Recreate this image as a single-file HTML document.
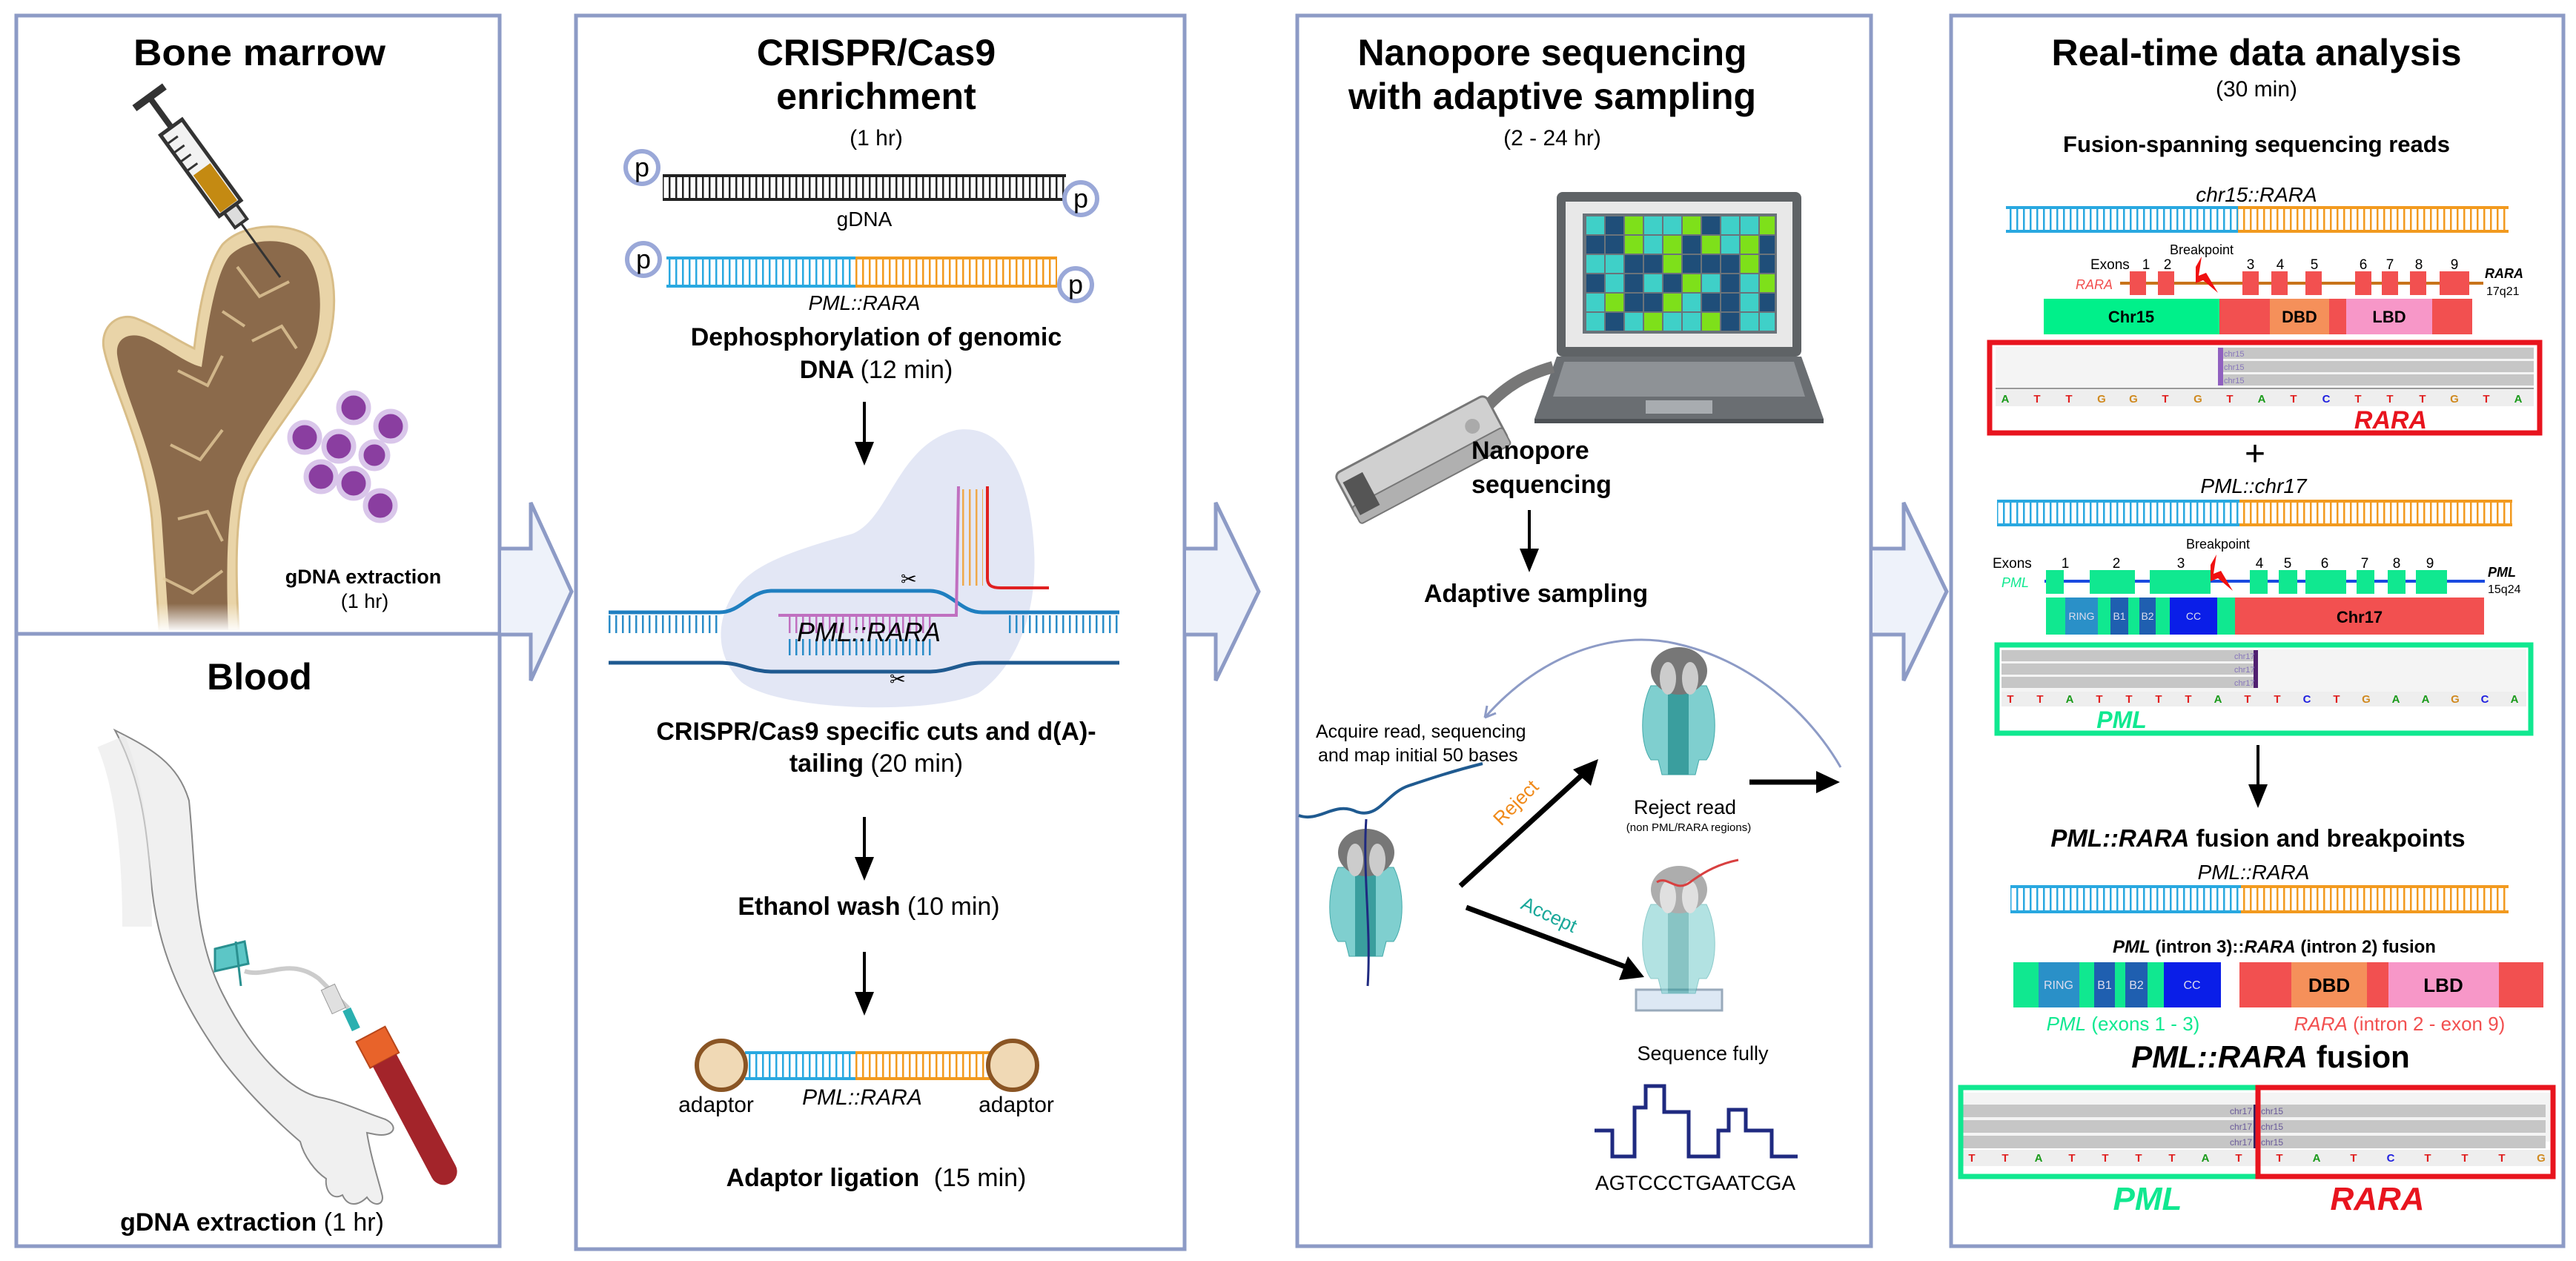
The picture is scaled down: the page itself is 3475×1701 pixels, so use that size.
<!DOCTYPE html>
<html><head><meta charset="utf-8"><style>
html,body{margin:0;padding:0;background:#fff}
svg{display:block}
text{font-family:"Liberation Sans",Arial,sans-serif}
.t{font-weight:bold;font-size:50px;text-anchor:middle}
.s{font-size:30px;text-anchor:middle}
.b{font-weight:bold}
.i{font-style:italic}
.m{text-anchor:middle}
</style></head><body>
<svg width="3475" height="1701" viewBox="0 0 3475 1701" xmlns="http://www.w3.org/2000/svg">
<defs>
<pattern id="rb" width="9" height="200" patternUnits="userSpaceOnUse"><rect x="2" y="0" width="2.5" height="200" fill="#29a8e0"/></pattern>
<pattern id="ro" width="9" height="200" patternUnits="userSpaceOnUse"><rect x="2" y="0" width="2.5" height="200" fill="#f29a1f"/></pattern>
<pattern id="rk" width="9" height="200" patternUnits="userSpaceOnUse"><rect x="2" y="0" width="2.5" height="200" fill="#222"/></pattern>
<pattern id="rd" width="9" height="200" patternUnits="userSpaceOnUse"><rect x="2" y="0" width="2.5" height="200" fill="#2a8cc8"/></pattern>
<pattern id="rp" width="9" height="200" patternUnits="userSpaceOnUse"><rect x="2" y="0" width="2.5" height="200" fill="#c070c0"/></pattern>
<linearGradient id="fade" x1="0" y1="0" x2="0" y2="1"><stop offset="0.75" stop-color="#fff" stop-opacity="0"/><stop offset="1" stop-color="#fff" stop-opacity="1"/></linearGradient>
</defs>

<g fill="none" stroke="#8d9bc6" stroke-width="5">
<rect x="22" y="21" width="652" height="834"/>
<rect x="22" y="855" width="652" height="826"/>
<rect x="777" y="21" width="821" height="1664"/>
<rect x="1750" y="21" width="774" height="1660"/>
<rect x="2632" y="21" width="826" height="1660"/>
</g>
<g fill="#eef2fa" stroke="#8d9bc6" stroke-width="5" stroke-linejoin="miter">
<path d="M676,740 L716,740 L716,678 L771,798 L716,918 L716,856 L676,856"/>
<path d="M1600,740 L1640,740 L1640,678 L1698,798 L1640,918 L1640,856 L1600,856"/>
<path d="M2526,740 L2568,740 L2568,678 L2626,798 L2568,918 L2568,856 L2526,856"/>
</g>

<!-- PANEL 1 bone marrow -->
<text class="t" x="350" y="88" textLength="340" lengthAdjust="spacingAndGlyphs">Bone marrow</text>
<path d="M215,850 L205,700 C195,600 150,520 140,470 C135,440 160,420 185,430 C215,442 240,460 262,470 C268,420 278,360 300,330 C330,298 395,300 422,322 C452,348 456,405 445,455 C432,515 360,585 332,650 C316,700 318,780 322,850 Z" fill="#e9d4a8" stroke="#d8bd88" stroke-width="3"/>
<path d="M228,850 L218,700 C210,610 165,530 158,478 C156,455 175,448 195,455 C225,468 250,490 272,495 C280,440 290,370 310,345 C335,320 385,320 408,338 C432,360 436,408 428,448 C415,505 348,575 320,645 C305,695 305,780 308,850 Z" fill="#8b6a4b"/>
<g stroke="#e2c99a" stroke-width="4" fill="none" opacity="0.8">
<path d="M240,500 L280,520 L300,480 M320,360 L350,400 L390,380 M230,600 L270,620 L300,580 M240,700 L280,690 L300,730 M220,780 L260,800 L300,770 M340,460 L380,440 L400,470 M300,420 L330,440"/>
</g>
<rect x="130" y="700" width="230" height="152" fill="url(#fade)"/>
<g transform="translate(378,374) rotate(-36)">
<line x1="0" y1="0" x2="0" y2="-90" stroke="#333" stroke-width="3"/>
<rect x="-10" y="-115" width="20" height="25" fill="#ddd" stroke="#333" stroke-width="4"/>
<rect x="-18" y="-250" width="36" height="135" fill="#f2f2f2" stroke="#333" stroke-width="5"/>
<rect x="-14" y="-180" width="28" height="62" fill="#c48a12"/>
<g stroke="#333" stroke-width="3"><line x1="-18" y1="-190" x2="0" y2="-190"/><line x1="-18" y1="-205" x2="0" y2="-205"/><line x1="-18" y1="-220" x2="0" y2="-220"/><line x1="-18" y1="-235" x2="0" y2="-235"/></g>
<rect x="-4" y="-300" width="8" height="50" fill="#333"/>
<rect x="-25" y="-305" width="50" height="10" fill="#333"/>
</g>
<g fill="#8a3ea0" stroke="#d9c6ea" stroke-width="7">
<circle cx="477" cy="550" r="20"/><circle cx="527" cy="575" r="20"/><circle cx="411" cy="590" r="20"/><circle cx="457" cy="602" r="20"/><circle cx="505" cy="614" r="18"/><circle cx="433" cy="643" r="20"/><circle cx="477" cy="652" r="20"/><circle cx="513" cy="682" r="20"/>
</g>
<text class="b m" x="490" y="787" font-size="27">gDNA extraction</text>
<text class="m" x="492" y="820" font-size="27">(1 hr)</text>

<!-- Blood -->
<text class="t" x="350" y="930">Blood</text>
<path d="M155,985 C205,1010 240,1030 255,1080 C265,1180 260,1260 300,1340 C340,1420 390,1470 430,1480 C460,1485 490,1500 520,1510 C540,1520 530,1535 505,1530 L495,1528 C500,1560 510,1590 515,1610 C520,1625 505,1630 495,1615 C485,1625 470,1630 462,1612 C448,1620 438,1605 440,1590 C425,1580 410,1560 405,1540 C370,1510 330,1470 300,1430 C250,1360 215,1290 205,1200 C198,1130 195,1060 155,985 Z" fill="#f0f0f0" stroke="#888" stroke-width="2"/>
<path d="M150,1000 C175,1060 185,1150 185,1250" stroke="#e8e8e8" stroke-width="40" fill="none" opacity="0.6"/>
<path d="M330,1310 C360,1320 390,1290 430,1320 C450,1340 460,1350 470,1360" stroke="#ccc" stroke-width="6" fill="none"/>
<path d="M290,1280 L330,1270 L335,1300 L290,1310 Z M318,1270 L325,1330" fill="#5cc6c6" stroke="#2a9090" stroke-width="3"/>
<rect x="440" y="1330" width="20" height="35" fill="#e0e0e0" stroke="#999" transform="rotate(-25 450 1348)"/>
<rect x="468" y="1360" width="12" height="30" fill="#2ab0b0" transform="rotate(-25 474 1375)"/>
<g transform="translate(500,1395) rotate(-28)">
<rect x="-22" y="0" width="44" height="40" fill="#e8632a" stroke="#b8461a" stroke-width="2"/>
<path d="M-18,40 L18,40 L18,210 A18,18 0 0 1 -18,210 Z" fill="#a3242a"/>
</g>
<text class="b m" x="340" y="1660" font-size="34">gDNA extraction <tspan font-weight="normal">(1 hr)</tspan></text>

<!-- PANEL 2 -->
<text class="t" x="1182" y="88">CRISPR/Cas9</text>
<text class="t" x="1182" y="147">enrichment</text>
<text class="s" x="1182" y="196">(1 hr)</text>
<rect x="894" y="238" width="544" height="30" fill="url(#rk)"/>
<line x1="894" y1="237" x2="1438" y2="237" stroke="#222" stroke-width="4"/>
<line x1="894" y1="269" x2="1438" y2="269" stroke="#222" stroke-width="4"/>
<g fill="#fff" stroke="#9aa8d8" stroke-width="6"><circle cx="866" cy="226" r="22"/><circle cx="1458" cy="268" r="22"/><circle cx="868" cy="350" r="22"/><circle cx="1451" cy="384" r="22"/></g>
<g font-size="36" class="m"><text x="866" y="238">p</text><text x="1458" y="280">p</text><text x="868" y="362">p</text><text x="1451" y="396">p</text></g>
<text class="m" x="1166" y="305" font-size="28">gDNA</text>
<rect x="899" y="349" width="255" height="36" fill="url(#rb)"/><rect x="1154" y="349" width="272" height="36" fill="url(#ro)"/>
<line x1="899" y1="348" x2="1154" y2="348" stroke="#29a8e0" stroke-width="4"/><line x1="899" y1="386" x2="1154" y2="386" stroke="#29a8e0" stroke-width="4"/>
<line x1="1154" y1="348" x2="1426" y2="348" stroke="#f29a1f" stroke-width="4"/><line x1="1154" y1="386" x2="1426" y2="386" stroke="#f29a1f" stroke-width="4"/>
<text class="i m" x="1166" y="418" font-size="28">PML::RARA</text>
<text class="b m" x="1182" y="466" font-size="34">Dephosphorylation of genomic</text>
<text class="b m" x="1182" y="510" font-size="34">DNA <tspan font-weight="normal">(12 min)</tspan></text>
<line x1="1166" y1="542" x2="1166" y2="600" stroke="#000" stroke-width="4"/><path d="M1153,596 L1179,596 L1166,628 Z"/>
<path d="M990,800 C1010,760 1080,740 1150,720 C1200,700 1210,600 1290,580 C1360,570 1390,650 1395,740 C1400,830 1370,900 1320,935 C1260,965 1050,960 1000,920 C960,880 970,830 990,800 Z" fill="#e3e7f5"/>
<rect x="821" y="830" width="150" height="24" fill="url(#rd)"/><rect x="1355" y="830" width="155" height="24" fill="url(#rd)"/>
<rect x="1060" y="832" width="200" height="22" fill="url(#rp)"/>
<rect x="1060" y="862" width="200" height="22" fill="url(#rd)"/>
<path d="M821,826 L970,826 C1000,826 1010,798 1040,797 L1255,797 C1285,798 1295,826 1325,826 L1510,826" fill="none" stroke="#1f7fc0" stroke-width="5"/>
<path d="M821,894 L970,894 C1000,894 1010,905 1040,906 L1255,906 C1285,905 1295,894 1325,894 L1510,894" fill="none" stroke="#1f5a90" stroke-width="5"/>
<path d="M1050,830 L1290,830 L1293,656" fill="none" stroke="#c070c0" stroke-width="4"/>
<rect x="1298" y="660" width="28" height="130" fill="url(#ro)" opacity="0.8"/>
<path d="M1332,656 L1332,780 C1332,790 1338,793 1350,793 L1415,793" fill="none" stroke="#e02020" stroke-width="4"/>
<text class="i m" x="1172" y="865" font-size="36">PML::RARA</text>
<text x="1215" y="790" font-size="26">✂</text><text x="1200" y="925" font-size="26">✂</text>
<text class="b m" x="1182" y="998" font-size="34">CRISPR/Cas9 specific cuts and d(A)-</text>
<text class="b m" x="1182" y="1041" font-size="34">tailing <tspan font-weight="normal">(20 min)</tspan></text>
<line x1="1166" y1="1102" x2="1166" y2="1160" stroke="#000" stroke-width="4"/><path d="M1153,1156 L1179,1156 L1166,1188 Z"/>
<text class="b m" x="1172" y="1234" font-size="34">Ethanol wash <tspan font-weight="normal">(10 min)</tspan></text>
<line x1="1166" y1="1284" x2="1166" y2="1342" stroke="#000" stroke-width="4"/><path d="M1153,1338 L1179,1338 L1166,1370 Z"/>
<rect x="1005" y="1421" width="149" height="33" fill="url(#rb)"/><rect x="1154" y="1421" width="184" height="33" fill="url(#ro)"/>
<line x1="1005" y1="1420" x2="1154" y2="1420" stroke="#29a8e0" stroke-width="4"/><line x1="1005" y1="1455" x2="1154" y2="1455" stroke="#29a8e0" stroke-width="4"/>
<line x1="1154" y1="1420" x2="1338" y2="1420" stroke="#f29a1f" stroke-width="4"/><line x1="1154" y1="1455" x2="1338" y2="1455" stroke="#f29a1f" stroke-width="4"/>
<circle cx="973" cy="1437" r="33" fill="#f0d9b5" stroke="#8a5524" stroke-width="6"/><circle cx="1366" cy="1437" r="33" fill="#f0d9b5" stroke="#8a5524" stroke-width="6"/>
<g font-size="30" class="m"><text x="966" y="1500">adaptor</text><text class="i" x="1163" y="1490">PML::RARA</text><text x="1371" y="1500">adaptor</text></g>
<text class="b m" x="1182" y="1600" font-size="34">Adaptor ligation <tspan font-weight="normal" dx="10">(15 min)</tspan></text>

<!-- PANEL 3 -->
<text class="t" x="2094" y="88">Nanopore sequencing</text>
<text class="t" x="2094" y="147">with adaptive sampling</text>
<text class="s" x="2094" y="196">(2 - 24 hr)</text>
<rect x="2100" y="259" width="330" height="222" rx="8" fill="#5f6366"/>
<rect x="2112" y="272" width="306" height="196" fill="#e8e8e8"/>
<rect x="2135" y="288" width="262" height="162" fill="#6a737a"/>
<path d="M2100,481 L2430,481 L2460,565 L2070,565 Z" fill="#6a6e72"/>
<path d="M2110,488 L2420,488 L2435,535 L2095,535 Z" fill="#8e9296"/>
<rect x="2220" y="540" width="90" height="18" fill="#a8acb0"/>
<rect x="2070" y="565" width="390" height="6" fill="#4d5155"/>
<path d="M2000,555 C2030,520 2060,505 2095,495" stroke="#777" stroke-width="16" fill="none"/>
<g transform="translate(1800,640) rotate(-28)">
<rect x="0" y="0" width="230" height="70" rx="8" fill="#d0d0d0" stroke="#777" stroke-width="3"/>
<rect x="0" y="50" width="230" height="26" rx="4" fill="#b0b0b0" stroke="#777" stroke-width="2"/>
<rect x="5" y="15" width="30" height="50" fill="#555"/>
<circle cx="195" cy="30" r="10" fill="#aaa"/>
</g>
<text class="b" x="1985" y="619" font-size="34">Nanopore</text>
<text class="b" x="1985" y="665" font-size="34">sequencing</text>
<line x1="2063" y1="688" x2="2063" y2="745" stroke="#000" stroke-width="4"/><path d="M2050,740 L2076,740 L2063,772 Z"/>
<text class="b m" x="2072" y="812" font-size="34">Adaptive sampling</text>
<path d="M2003,968 C2080,880 2180,850 2260,868 C2360,890 2440,960 2483,1035" fill="none" stroke="#8d9bc6" stroke-width="3"/>
<path d="M2003,968 L2006,952 M2003,968 L2018,962" stroke="#8d9bc6" stroke-width="3"/>
<text x="1775" y="995" font-size="25">Acquire read, sequencing</text>
<text x="1778" y="1027" font-size="25">and map initial 50 bases</text>
<path d="M1752,1100 C1780,1110 1800,1080 1830,1095 C1860,1105 1870,1070 1900,1060 C1930,1050 1960,1040 2000,1030" stroke="#1f5a90" stroke-width="4" fill="none"/>
<g id="pore">
<path d="M1805,1170 L1880,1170 C1895,1200 1895,1250 1880,1270 L1870,1270 L1865,1290 L1820,1290 L1815,1270 L1805,1270 C1790,1250 1790,1200 1805,1170 Z" fill="#7fcfcf" stroke="#4aa"/>
<rect x="1828" y="1180" width="28" height="110" fill="#3a9e9e"/>
<ellipse cx="1843" cy="1150" rx="38" ry="32" fill="#777"/>
<ellipse cx="1828" cy="1160" rx="11" ry="22" fill="#ccc"/><ellipse cx="1858" cy="1160" rx="11" ry="22" fill="#ccc"/>
</g>
<path d="M1843,1105 C1838,1180 1850,1250 1845,1330" stroke="#1f2a80" stroke-width="3" fill="none"/>
<use href="#pore" transform="translate(422,-245)"/>
<g transform="translate(2265,1290)">
<rect x="-58" y="45" width="116" height="28" fill="#dde8f4" stroke="#9ab" stroke-width="3"/>
</g>
<use href="#pore" transform="translate(422,50)" opacity="0.6"/>
<path d="M2235,1190 C2250,1180 2260,1205 2280,1190 C2300,1175 2320,1165 2345,1160" stroke="#d84040" stroke-width="3" fill="none"/>
<line x1="1970" y1="1195" x2="2140" y2="1040" stroke="#000" stroke-width="7"/><path d="M2156,1024 L2146,1060 L2122,1038 Z"/>
<line x1="1978" y1="1224" x2="2195" y2="1305" stroke="#000" stroke-width="7"/><path d="M2218,1318 L2184,1322 L2196,1290 Z"/>
<text x="2025" y="1115" font-size="26" fill="#f08a1a" transform="rotate(-45 2025 1115)">Reject</text>
<text x="2050" y="1225" font-size="26" fill="#1aa89a" transform="rotate(25 2050 1225)">Accept</text>
<text class="m" x="2273" y="1098" font-size="27">Reject read</text>
<text class="m" x="2278" y="1121" font-size="15">(non PML/RARA regions)</text>
<line x1="2360" y1="1055" x2="2455" y2="1055" stroke="#000" stroke-width="7"/><path d="M2482,1055 L2450,1040 L2450,1070 Z"/>
<text class="m" x="2297" y="1430" font-size="27">Sequence fully</text>
<path d="M2151,1525 L2175,1525 L2175,1560 L2205,1560 L2205,1494 L2220,1494 L2220,1465 L2245,1465 L2245,1500 L2278,1500 L2278,1560 L2318,1560 L2318,1525 L2332,1525 L2332,1497 L2355,1497 L2355,1525 L2390,1525 L2390,1560 L2425,1560" fill="none" stroke="#1f2a80" stroke-width="5"/>
<text class="m" x="2287" y="1605" font-size="28">AGTCCCTGAATCGA</text>

<!-- PANEL 4 -->
<text class="t" x="3044" y="88">Real-time data analysis</text>
<text class="s" x="3044" y="130">(30 min)</text>
<text class="b m" x="3044" y="205" font-size="31">Fusion-spanning sequencing reads</text>
<text class="i m" x="3044" y="272" font-size="28">chr15::RARA</text>
<rect x="2706" y="281" width="313" height="31" fill="url(#rb)"/><rect x="3019" y="281" width="365" height="31" fill="url(#ro)"/>
<line x1="2706" y1="280" x2="3019" y2="280" stroke="#29a8e0" stroke-width="4"/><line x1="2706" y1="312" x2="3019" y2="312" stroke="#29a8e0" stroke-width="4"/>
<line x1="3019" y1="280" x2="3384" y2="280" stroke="#f29a1f" stroke-width="4"/><line x1="3019" y1="312" x2="3384" y2="312" stroke="#f29a1f" stroke-width="4"/>
<text class="m" x="2970" y="343" font-size="18">Breakpoint</text>
<g font-size="19"><text x="2820" y="363">Exons</text></g>
<line x1="2860" y1="382" x2="3350" y2="382" stroke="#c8731a" stroke-width="4"/>
<g fill="#f25050"><rect x="2873" y="366" width="22" height="32"/><rect x="2911" y="366" width="22" height="32"/><rect x="3025" y="366" width="22" height="32"/><rect x="3064" y="366" width="22" height="32"/><rect x="3110" y="366" width="22" height="32"/><rect x="3177" y="366" width="22" height="32"/><rect x="3213" y="366" width="22" height="32"/><rect x="3251" y="366" width="22" height="32"/><rect x="3291" y="366" width="40" height="32"/></g>
<g font-size="19" class="m"><text x="2895" y="363">1</text><text x="2924" y="363">2</text><text x="3036" y="363">3</text><text x="3076" y="363">4</text><text x="3122" y="363">5</text><text x="3188" y="363">6</text><text x="3224" y="363">7</text><text x="3263" y="363">8</text><text x="3311" y="363">9</text></g>
<path d="M2962,360 L2970,346 L2966,372 L2976,368 L2992,395 L2972,378 L2962,382 Z" fill="#f01010"/>
<text class="i" x="2800" y="390" font-size="18" fill="#f25050">RARA</text>
<text class="b i" x="3352" y="375" font-size="18">RARA</text><text x="3354" y="398" font-size="16">17q21</text>
<rect x="2757" y="403" width="237" height="48" fill="#00f08a"/><rect x="2994" y="403" width="68" height="48" fill="#f25050"/><rect x="3062" y="403" width="80" height="48" fill="#f5905a"/><rect x="3142" y="403" width="23" height="48" fill="#f25050"/><rect x="3165" y="403" width="116" height="48" fill="#f797c8"/><rect x="3281" y="403" width="54" height="48" fill="#f25050"/>
<g class="b m" font-size="22"><text x="2875" y="435">Chr15</text><text x="3102" y="435">DBD</text><text x="3223" y="435">LBD</text></g>
<rect x="2684" y="462" width="742" height="122" fill="#fff" stroke="#e8141e" stroke-width="7"/>
<rect x="2692" y="468" width="726" height="60" fill="#f4f4f4"/>
<g fill="#c6c6c6"><rect x="2995" y="469" width="423" height="15"/><rect x="2995" y="487" width="423" height="15"/><rect x="2995" y="505" width="423" height="15"/></g>
<rect x="2992" y="469" width="7" height="51" fill="#9060c0"/>
<g font-size="11" fill="#8877bb"><text x="3000" y="481">chr15</text><text x="3000" y="499">chr15</text><text x="3000" y="517">chr15</text></g>
<line x1="2692" y1="524" x2="3418" y2="524" stroke="#999" stroke-width="2"/>
<rect x="2692" y="526" width="726" height="22" fill="#eee"/>
<g font-size="15" class="b m">
<text x="2705" y="543" fill="#1a9a1a">A</text><text x="2748" y="543" fill="#e02020">T</text><text x="2791" y="543" fill="#e02020">T</text><text x="2835" y="543" fill="#d08a20">G</text><text x="2878" y="543" fill="#d08a20">G</text><text x="2921" y="543" fill="#e02020">T</text><text x="2965" y="543" fill="#d08a20">G</text><text x="3008" y="543" fill="#e02020">T</text><text x="3051" y="543" fill="#1a9a1a">A</text><text x="3094" y="543" fill="#e02020">T</text><text x="3138" y="543" fill="#2020e0">C</text><text x="3181" y="543" fill="#e02020">T</text><text x="3224" y="543" fill="#e02020">T</text><text x="3268" y="543" fill="#e02020">T</text><text x="3311" y="543" fill="#d08a20">G</text><text x="3354" y="543" fill="#e02020">T</text><text x="3397" y="543" fill="#1a9a1a">A</text></g>
<text class="b i m" x="3225" y="578" font-size="34" fill="#e8141e">RARA</text>
<text class="m" x="3042" y="628" font-size="48">+</text>
<text class="i m" x="3040" y="665" font-size="28">PML::chr17</text>
<rect x="2694" y="677" width="327" height="30" fill="url(#rb)"/><rect x="3021" y="677" width="368" height="30" fill="url(#ro)"/>
<line x1="2694" y1="676" x2="3021" y2="676" stroke="#29a8e0" stroke-width="4"/><line x1="2694" y1="708" x2="3021" y2="708" stroke="#29a8e0" stroke-width="4"/>
<line x1="3021" y1="676" x2="3389" y2="676" stroke="#f29a1f" stroke-width="4"/><line x1="3021" y1="708" x2="3389" y2="708" stroke="#f29a1f" stroke-width="4"/>
<text class="m" x="2992" y="740" font-size="18">Breakpoint</text>
<text x="2688" y="766" font-size="19">Exons</text>
<line x1="2758" y1="784" x2="3352" y2="784" stroke="#1a4ae0" stroke-width="4"/>
<g fill="#10e890"><rect x="2760" y="769" width="24" height="32"/><rect x="2819" y="769" width="61" height="32"/><rect x="2900" y="769" width="82" height="32"/><rect x="3035" y="769" width="24" height="32"/><rect x="3074" y="769" width="25" height="32"/><rect x="3110" y="769" width="55" height="32"/><rect x="3179" y="769" width="24" height="32"/><rect x="3221" y="769" width="24" height="32"/><rect x="3259" y="769" width="42" height="32"/></g>
<g font-size="19" class="m"><text x="2786" y="766">1</text><text x="2855" y="766">2</text><text x="2942" y="766">3</text><text x="3048" y="766">4</text><text x="3086" y="766">5</text><text x="3136" y="766">6</text><text x="3190" y="766">7</text><text x="3233" y="766">8</text><text x="3278" y="766">9</text></g>
<path d="M2982,762 L2990,748 L2986,774 L2996,770 L3012,797 L2992,780 L2982,784 Z" fill="#f01010"/>
<text class="i" x="2700" y="792" font-size="18" fill="#10e890">PML</text>
<text class="b i" x="3356" y="778" font-size="18">PML</text><text x="3356" y="800" font-size="16">15q24</text>
<rect x="2760" y="806" width="516" height="50" fill="#10e890"/>
<rect x="2786" y="806" width="44" height="50" fill="#2a90c8"/><rect x="2847" y="806" width="24" height="50" fill="#1f5fb0"/><rect x="2886" y="806" width="22" height="50" fill="#1f5fb0"/><rect x="2927" y="806" width="64" height="50" fill="#0a1ee8"/>
<rect x="3015" y="806" width="336" height="50" fill="#f25050"/>
<g font-size="14" fill="#dde" class="m"><text x="2808" y="836">RING</text><text x="2859" y="836">B1</text><text x="2897" y="836">B2</text><text x="2959" y="836">CC</text></g>
<text class="b m" x="3183" y="840" font-size="22">Chr17</text>
<rect x="2694" y="870" width="720" height="119" fill="#fff" stroke="#10e890" stroke-width="7"/>
<rect x="2700" y="876" width="708" height="58" fill="#f4f4f4"/>
<g fill="#c6c6c6"><rect x="2700" y="877" width="340" height="15"/><rect x="2700" y="895" width="340" height="15"/><rect x="2700" y="913" width="340" height="15"/></g>
<rect x="3040" y="877" width="6" height="51" fill="#502070"/>
<g font-size="11" fill="#8877bb"><text x="3014" y="889">chr17</text><text x="3014" y="907">chr17</text><text x="3014" y="925">chr17</text></g>
<rect x="2700" y="933" width="708" height="20" fill="#eee"/>
<g font-size="15" class="b m">
<text x="2712" y="948" fill="#e02020">T</text><text x="2752" y="948" fill="#e02020">T</text><text x="2792" y="948" fill="#1a9a1a">A</text><text x="2832" y="948" fill="#e02020">T</text><text x="2872" y="948" fill="#e02020">T</text><text x="2912" y="948" fill="#e02020">T</text><text x="2952" y="948" fill="#e02020">T</text><text x="2992" y="948" fill="#1a9a1a">A</text><text x="3032" y="948" fill="#e02020">T</text><text x="3072" y="948" fill="#e02020">T</text><text x="3112" y="948" fill="#2020e0">C</text><text x="3152" y="948" fill="#e02020">T</text><text x="3192" y="948" fill="#d08a20">G</text><text x="3232" y="948" fill="#1a9a1a">A</text><text x="3272" y="948" fill="#1a9a1a">A</text><text x="3312" y="948" fill="#d08a20">G</text><text x="3352" y="948" fill="#2020e0">C</text><text x="3392" y="948" fill="#1a9a1a">A</text></g>
<text class="b i m" x="2862" y="982" font-size="32" fill="#10e890">PML</text>
<line x1="3046" y1="1005" x2="3046" y2="1062" stroke="#000" stroke-width="4"/><path d="M3033,1058 L3059,1058 L3046,1090 Z"/>
<text class="b m" x="3046" y="1142" font-size="33"><tspan class="i">PML::RARA</tspan> fusion and breakpoints</text>
<text class="i m" x="3040" y="1186" font-size="28">PML::RARA</text>
<rect x="2712" y="1197" width="311" height="32" fill="url(#rb)"/><rect x="3023" y="1197" width="361" height="32" fill="url(#ro)"/>
<line x1="2712" y1="1196" x2="3023" y2="1196" stroke="#29a8e0" stroke-width="4"/><line x1="2712" y1="1230" x2="3023" y2="1230" stroke="#29a8e0" stroke-width="4"/>
<line x1="3023" y1="1196" x2="3384" y2="1196" stroke="#f29a1f" stroke-width="4"/><line x1="3023" y1="1230" x2="3384" y2="1230" stroke="#f29a1f" stroke-width="4"/>
<text class="b m" x="3068" y="1285" font-size="24"><tspan class="i">PML</tspan> (intron 3)::<tspan class="i">RARA</tspan> (intron 2) fusion</text>
<rect x="2716" y="1298" width="276" height="61" fill="#10e890"/>
<rect x="2750" y="1298" width="55" height="61" fill="#2a90c8"/><rect x="2825" y="1298" width="28" height="61" fill="#1f5fb0"/><rect x="2867" y="1298" width="30" height="61" fill="#1f5fb0"/><rect x="2919" y="1298" width="77" height="61" fill="#0a1ee8"/>
<rect x="3021" y="1298" width="70" height="61" fill="#f25050"/><rect x="3091" y="1298" width="102" height="61" fill="#f5905a"/><rect x="3193" y="1298" width="29" height="61" fill="#f25050"/><rect x="3222" y="1298" width="149" height="61" fill="#f797c8"/><rect x="3371" y="1298" width="60" height="61" fill="#f25050"/>
<g font-size="16" fill="#dde" class="m"><text x="2777" y="1334">RING</text><text x="2839" y="1334">B1</text><text x="2882" y="1334">B2</text><text x="2957" y="1334">CC</text></g>
<g class="b m" font-size="26"><text x="3142" y="1338">DBD</text><text x="3296" y="1338">LBD</text></g>
<text class="m" x="2864" y="1390" font-size="26" fill="#10e890"><tspan class="i">PML</tspan> (exons 1 - 3)</text>
<text class="m" x="3237" y="1390" font-size="26" fill="#f25050"><tspan class="i">RARA</tspan> (intron 2 - exon 9)</text>
<text class="b m" x="3063" y="1440" font-size="42"><tspan class="i">PML::RARA</tspan> fusion</text>
<rect x="2648" y="1470" width="792" height="104" fill="#fff"/>
<rect x="2648" y="1474" width="792" height="66" fill="#f4f4f4"/>
<g fill="#c6c6c6"><rect x="2648" y="1490" width="786" height="17"/><rect x="2648" y="1511" width="786" height="17"/><rect x="2648" y="1532" width="786" height="17"/></g>
<rect x="3040" y="1490" width="6" height="59" fill="#302060"/>
<g font-size="12" fill="#6a5a9a"><text x="3008" y="1503">chr17</text><text x="3008" y="1524">chr17</text><text x="3008" y="1545">chr17</text><text x="3050" y="1503">chr15</text><text x="3050" y="1524">chr15</text><text x="3050" y="1545">chr15</text></g>
<rect x="2648" y="1551" width="792" height="22" fill="#eee"/>
<g font-size="15" class="b m">
<text x="2660" y="1567" fill="#e02020">T</text><text x="2705" y="1567" fill="#e02020">T</text><text x="2750" y="1567" fill="#1a9a1a">A</text><text x="2795" y="1567" fill="#e02020">T</text><text x="2840" y="1567" fill="#e02020">T</text><text x="2885" y="1567" fill="#e02020">T</text><text x="2930" y="1567" fill="#e02020">T</text><text x="2975" y="1567" fill="#1a9a1a">A</text><text x="3020" y="1567" fill="#e02020">T</text>
<text x="3075" y="1567" fill="#e02020">T</text><text x="3125" y="1567" fill="#1a9a1a">A</text><text x="3175" y="1567" fill="#e02020">T</text><text x="3225" y="1567" fill="#2020e0">C</text><text x="3275" y="1567" fill="#e02020">T</text><text x="3325" y="1567" fill="#e02020">T</text><text x="3375" y="1567" fill="#e02020">T</text><text x="3428" y="1567" fill="#d08a20">G</text></g>
<rect x="2645" y="1467" width="401" height="120" fill="none" stroke="#10e890" stroke-width="7"/>
<rect x="3046" y="1467" width="398" height="120" fill="none" stroke="#e8141e" stroke-width="7"/>
<text class="b i m" x="2897" y="1632" font-size="44" fill="#10e890">PML</text>
<text class="b i m" x="3207" y="1632" font-size="44" fill="#e8141e">RARA</text>

<g>
<rect x="2140" y="292" width="24" height="24" fill="#3fd0c8"/><rect x="2166" y="292" width="24" height="24" fill="#1f4e79"/><rect x="2192" y="292" width="24" height="24" fill="#7ee01a"/><rect x="2218" y="292" width="24" height="24" fill="#3fd0c8"/><rect x="2244" y="292" width="24" height="24" fill="#3fd0c8"/><rect x="2270" y="292" width="24" height="24" fill="#7ee01a"/><rect x="2296" y="292" width="24" height="24" fill="#1f4e79"/><rect x="2322" y="292" width="24" height="24" fill="#3fd0c8"/><rect x="2348" y="292" width="24" height="24" fill="#3fd0c8"/><rect x="2374" y="292" width="20" height="24" fill="#7ee01a"/>
<rect x="2140" y="318" width="24" height="24" fill="#1f4e79"/><rect x="2166" y="318" width="24" height="24" fill="#1f4e79"/><rect x="2192" y="318" width="24" height="24" fill="#7ee01a"/><rect x="2218" y="318" width="24" height="24" fill="#3fd0c8"/><rect x="2244" y="318" width="24" height="24" fill="#7ee01a"/><rect x="2270" y="318" width="24" height="24" fill="#1f4e79"/><rect x="2296" y="318" width="24" height="24" fill="#7ee01a"/><rect x="2322" y="318" width="24" height="24" fill="#3fd0c8"/><rect x="2348" y="318" width="24" height="24" fill="#7ee01a"/><rect x="2374" y="318" width="20" height="24" fill="#1f4e79"/>
<rect x="2140" y="344" width="24" height="24" fill="#3fd0c8"/><rect x="2166" y="344" width="24" height="24" fill="#3fd0c8"/><rect x="2192" y="344" width="24" height="24" fill="#1f4e79"/><rect x="2218" y="344" width="24" height="24" fill="#1f4e79"/><rect x="2244" y="344" width="24" height="24" fill="#7ee01a"/><rect x="2270" y="344" width="24" height="24" fill="#1f4e79"/><rect x="2296" y="344" width="24" height="24" fill="#1f4e79"/><rect x="2322" y="344" width="24" height="24" fill="#1f4e79"/><rect x="2348" y="344" width="24" height="24" fill="#7ee01a"/><rect x="2374" y="344" width="20" height="24" fill="#1f4e79"/>
<rect x="2140" y="370" width="24" height="24" fill="#1f4e79"/><rect x="2166" y="370" width="24" height="24" fill="#3fd0c8"/><rect x="2192" y="370" width="24" height="24" fill="#1f4e79"/><rect x="2218" y="370" width="24" height="24" fill="#3fd0c8"/><rect x="2244" y="370" width="24" height="24" fill="#1f4e79"/><rect x="2270" y="370" width="24" height="24" fill="#7ee01a"/><rect x="2296" y="370" width="24" height="24" fill="#3fd0c8"/><rect x="2322" y="370" width="24" height="24" fill="#1f4e79"/><rect x="2348" y="370" width="24" height="24" fill="#3fd0c8"/><rect x="2374" y="370" width="20" height="24" fill="#7ee01a"/>
<rect x="2140" y="396" width="24" height="24" fill="#3fd0c8"/><rect x="2166" y="396" width="24" height="24" fill="#7ee01a"/><rect x="2192" y="396" width="24" height="24" fill="#1f4e79"/><rect x="2218" y="396" width="24" height="24" fill="#1f4e79"/><rect x="2244" y="396" width="24" height="24" fill="#7ee01a"/><rect x="2270" y="396" width="24" height="24" fill="#3fd0c8"/><rect x="2296" y="396" width="24" height="24" fill="#1f4e79"/><rect x="2322" y="396" width="24" height="24" fill="#1f4e79"/><rect x="2348" y="396" width="24" height="24" fill="#3fd0c8"/><rect x="2374" y="396" width="20" height="24" fill="#1f4e79"/>
<rect x="2140" y="422" width="24" height="24" fill="#3fd0c8"/><rect x="2166" y="422" width="24" height="24" fill="#1f4e79"/><rect x="2192" y="422" width="24" height="24" fill="#3fd0c8"/><rect x="2218" y="422" width="24" height="24" fill="#7ee01a"/><rect x="2244" y="422" width="24" height="24" fill="#3fd0c8"/><rect x="2270" y="422" width="24" height="24" fill="#3fd0c8"/><rect x="2296" y="422" width="24" height="24" fill="#7ee01a"/><rect x="2322" y="422" width="24" height="24" fill="#1f4e79"/><rect x="2348" y="422" width="24" height="24" fill="#3fd0c8"/><rect x="2374" y="422" width="20" height="24" fill="#3fd0c8"/>
</g>
</svg>
</body></html>
